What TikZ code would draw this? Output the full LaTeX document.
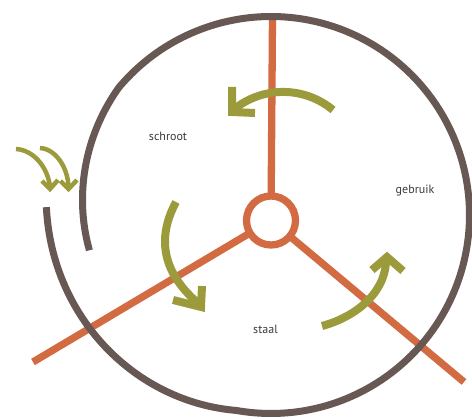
\documentclass[tikz,border=0pt]{standalone}
\usepackage{fontspec}
\setmainfont{PT Sans}
\definecolor{spiralbrown}{HTML}{685854}
\definecolor{spokeorange}{HTML}{D26B42}
\definecolor{arrowolive}{HTML}{9C9B3C}
\definecolor{labelgray}{HTML}{3A3A3A}
\begin{document}
\begin{tikzpicture}[x=1pt,y=-1pt,
  declare function={sr(\q)=(\q>140)?(198.5-(\q-140)*0.265):((\q<-100)?(198.5+(-100-\q)*0.32):198.5);},
  spoke/.style={draw=spokeorange,line width=7.3pt},
  rim/.style={draw=spiralbrown,line width=7pt},
  bigarrow/.style={draw=arrowolive,line width=8pt},
  smallarrow/.style={draw=arrowolive,line width=4.5pt},
  lbl/.style={font=\fontsize{12}{14}\selectfont,text=labelgray,inner sep=0pt,anchor=base}]
\useasboundingbox (0,0) rectangle (472,419);
% hub and spokes
\node[circle,draw=spokeorange,line width=7.3pt,minimum size=49pt,inner sep=0pt,outer sep=0pt] (hub) at (271,220.5) {};
\coordinate (topend) at (272.5,16);
\coordinate (leftend) at (33,362);
\coordinate (rightend) at (464,382);
\draw[spoke] (hub) -- (topend);
\draw[spoke] (hub) -- (leftend);
\draw[spoke] (hub) -- (rightend);
% spiral rim
\draw[rim,shift={(271,215)}] plot[domain=-182:191,samples=220,smooth] ({-\x}:{sr(\x)});
% big arrows
\draw[bigarrow] (333,110) arc[start angle=-50.2,end angle=-129,radius=78];
\draw[bigarrow] (232,87) -- (232,112) -- (255,113);
\draw[bigarrow] (176,202) .. controls (162,228) and (154,266) .. (199,304);
\draw[bigarrow] (202,286) -- (201,307) -- (173,300);
\draw[bigarrow] (322,326) .. controls (352,318) and (384,296) .. (386,262);
\draw[bigarrow] (372,270) -- (387,257) -- (403,271);
% small arrows
\draw[smallarrow] (16,149) .. controls (34,150) and (48,168) .. (50,187);
\draw[smallarrow] (42,181) -- (50,189) -- (58,180);
\draw[smallarrow] (40,148) .. controls (56,149) and (68,168) .. (68.5,187);
\draw[smallarrow] (60.5,181) -- (68.5,189) -- (77,180);
% labels
\node[lbl] (schroot) at (168,141) {schroot};
\node[lbl] (gebruik) at (415,194) {gebruik};
\node[lbl] (staal) at (265.5,334) {staal};
\end{tikzpicture}
\end{document}
